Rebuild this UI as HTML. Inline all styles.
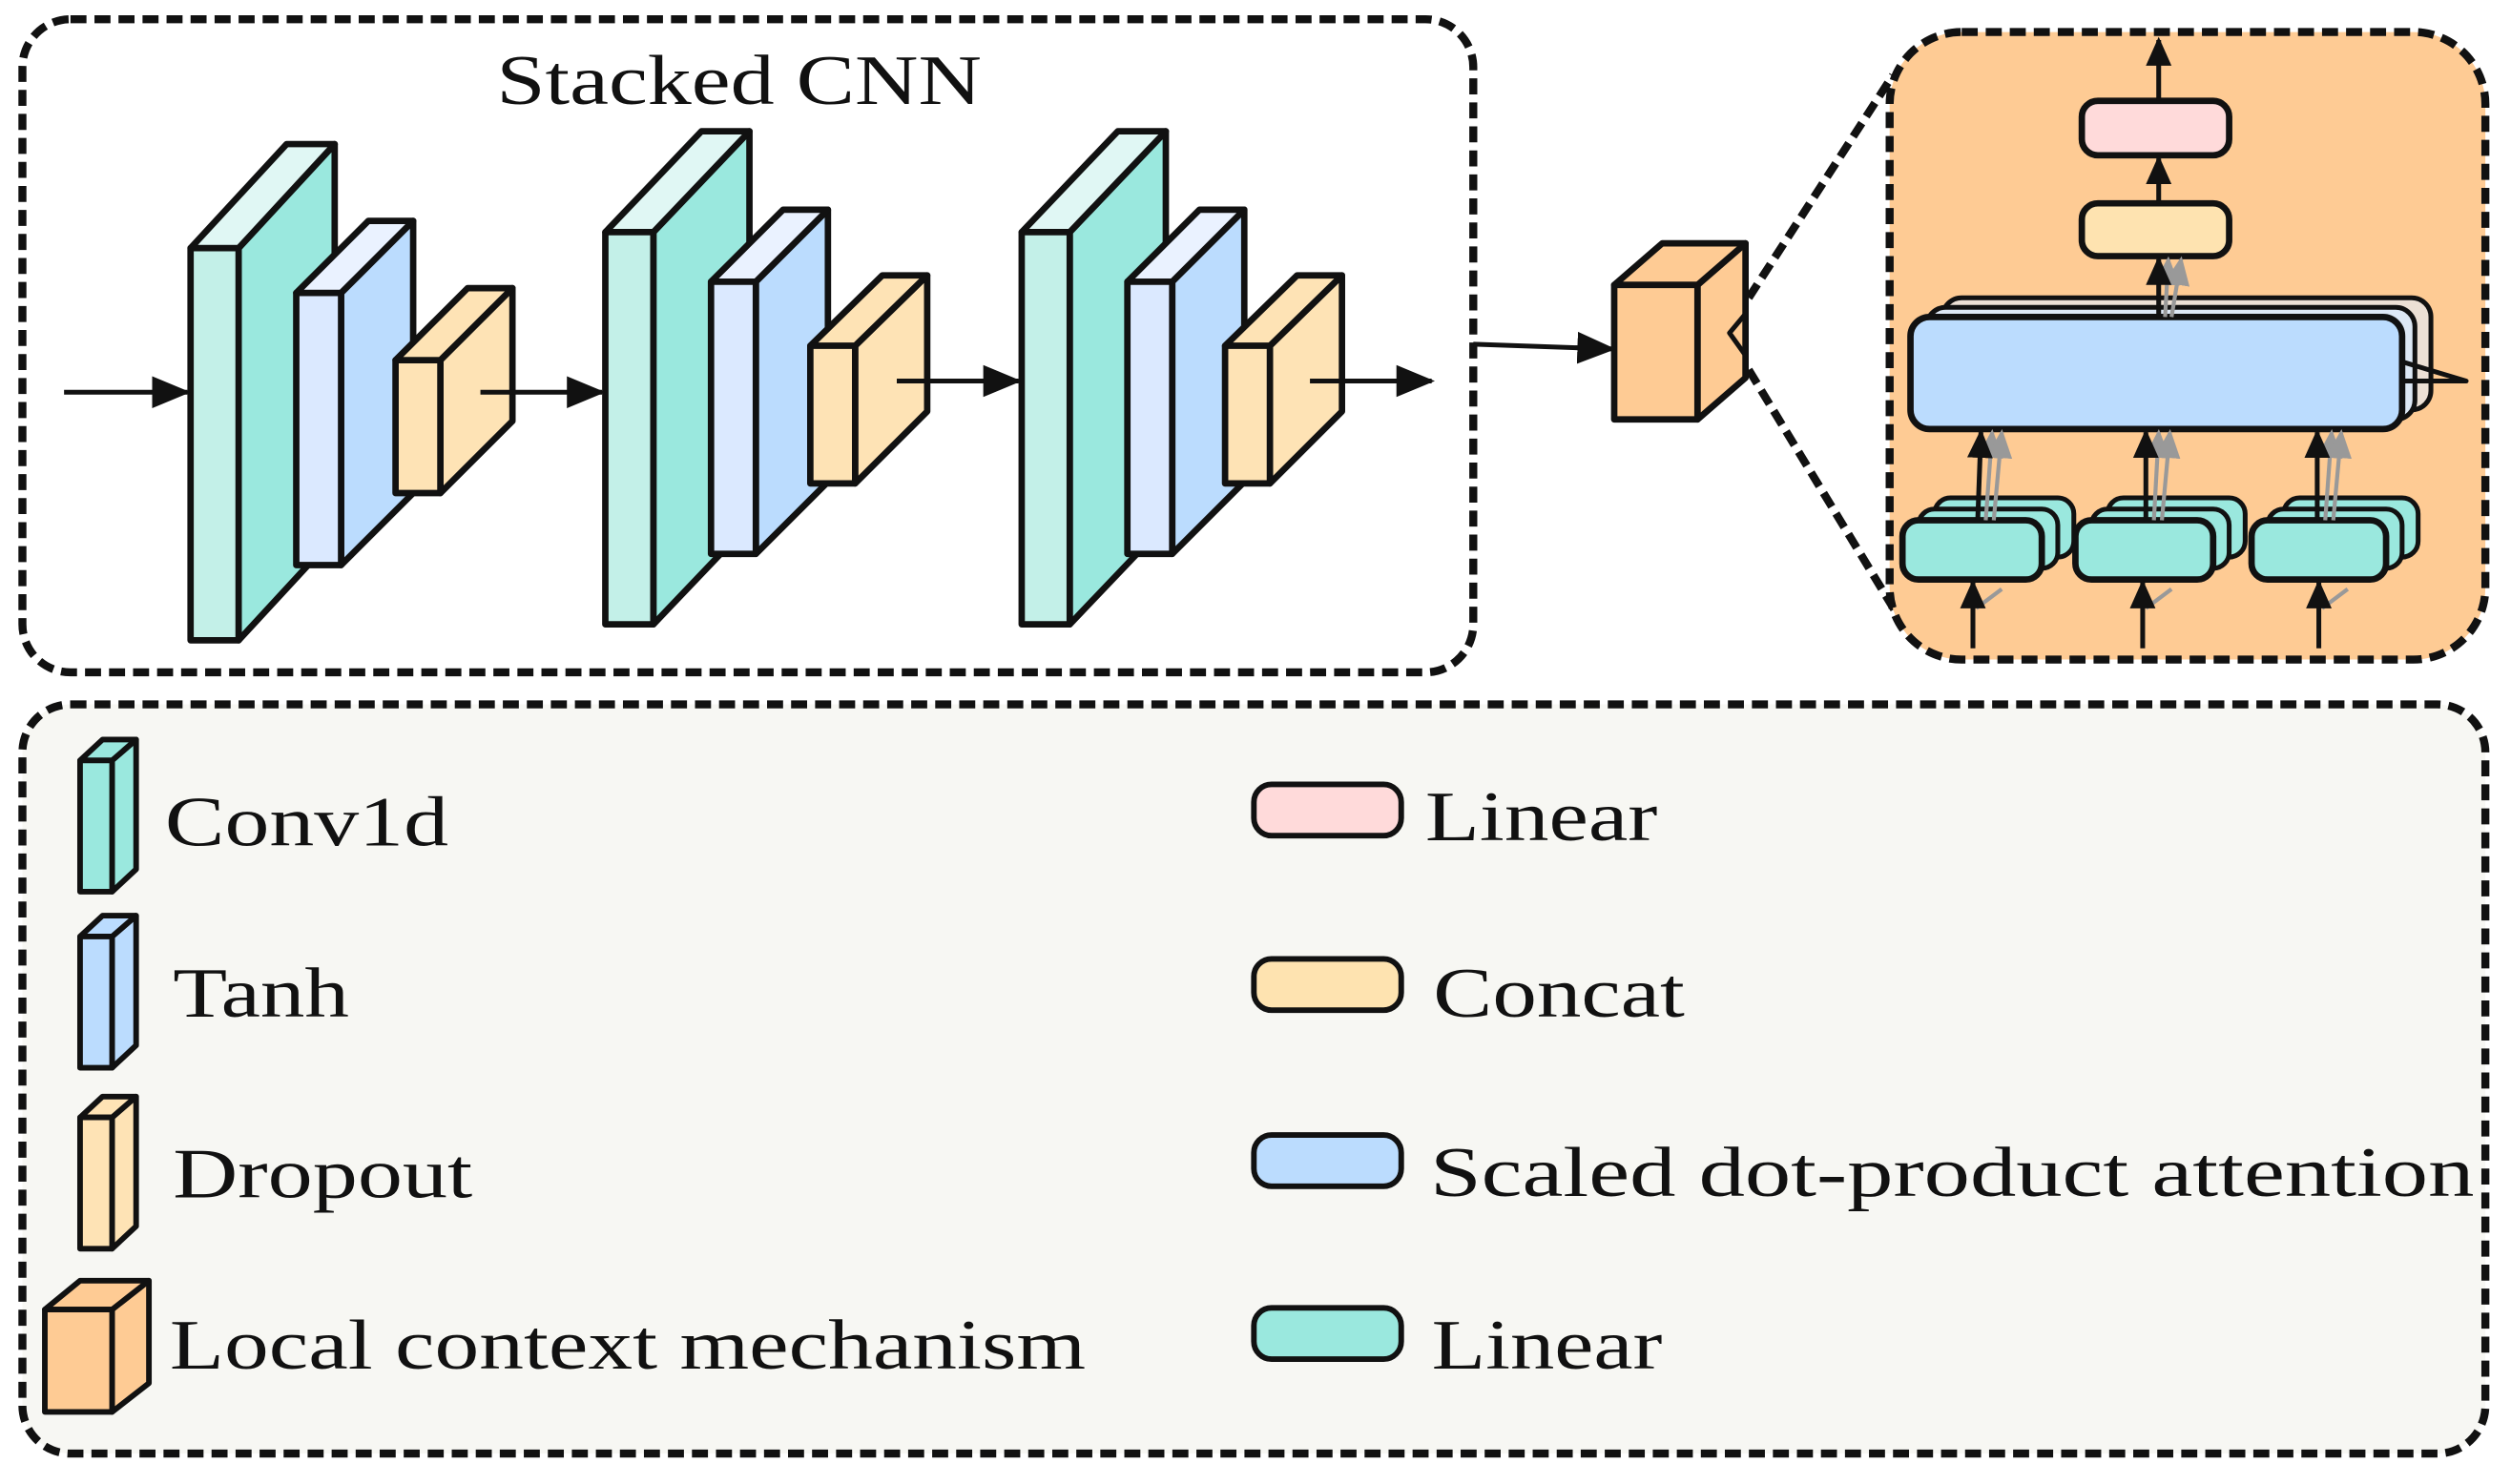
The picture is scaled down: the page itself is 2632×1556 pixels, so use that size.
<!DOCTYPE html>
<html><head><style>html,body{margin:0;padding:0;background:#fff}svg{display:block}</style></head><body>
<svg width="2632" height="1556" viewBox="0 0 1568 927" preserveAspectRatio="none" xmlns="http://www.w3.org/2000/svg" font-family="'Liberation Serif', serif">
<defs>
<marker id="ah" markerWidth="18" markerHeight="18" refX="16" refY="9" orient="auto" markerUnits="userSpaceOnUse" viewBox="0 0 18 18"><path d="M0,1 L18,9 L0,17z" fill="#111"/></marker>
<marker id="ab" markerWidth="24" markerHeight="24" refX="22" refY="12" orient="auto" markerUnits="userSpaceOnUse" viewBox="0 0 24 24"><path d="M0,2 L24,12 L0,22z" fill="#111"/></marker>
<marker id="ag" markerWidth="18" markerHeight="18" refX="16" refY="9" orient="auto" markerUnits="userSpaceOnUse" viewBox="0 0 18 18"><path d="M0,1 L18,9 L0,17z" fill="#999"/></marker>
</defs>
<g stroke="#111" stroke-width="5" stroke-linejoin="round">
<rect x="14" y="12" width="906" height="408" rx="30" fill="#fff" stroke-dasharray="10 5"/>
<rect x="14" y="440" width="1538" height="468" rx="30" fill="#f7f7f3" stroke-dasharray="10 5"/>
</g>
<text x="310" y="65" font-size="44" textLength="303" lengthAdjust="spacingAndGlyphs" fill="#111">Stacked CNN</text>

<g stroke="#111" stroke-width="4" stroke-linejoin="round">
<polygon points="149,155 209,90 209,335 149,400" fill="#9ae8de"/>
<polygon points="119,155 179,90 209,90 149,155" fill="#e0f7f4"/>
<rect x="119" y="155" width="30" height="245" fill="#c3f0e8"/>
<polygon points="213,183 258,138 258,308 213,353" fill="#bbdcfe"/>
<polygon points="185,183 230,138 258,138 213,183" fill="#eaf2ff"/>
<rect x="185" y="183" width="28" height="170" fill="#dbe9ff"/>
<polygon points="275,225 320,180 320,263 275,308" fill="#fee3b5"/>
<polygon points="247,225 292,180 320,180 275,225" fill="#fee3b5"/>
<rect x="247" y="225" width="28" height="83" fill="#fee3b5"/>
<polygon points="408,145 468,82 468,327 408,390" fill="#9ae8de"/>
<polygon points="378,145 438,82 468,82 408,145" fill="#e0f7f4"/>
<rect x="378" y="145" width="30" height="245" fill="#c3f0e8"/>
<polygon points="472,176 517,131 517,301 472,346" fill="#bbdcfe"/>
<polygon points="444,176 489,131 517,131 472,176" fill="#eaf2ff"/>
<rect x="444" y="176" width="28" height="170" fill="#dbe9ff"/>
<polygon points="534,216 579,172 579,257 534,302" fill="#fee3b5"/>
<polygon points="506,216 551,172 579,172 534,216" fill="#fee3b5"/>
<rect x="506" y="216" width="28" height="86" fill="#fee3b5"/>
<polygon points="668,145 728,82 728,327 668,390" fill="#9ae8de"/>
<polygon points="638,145 698,82 728,82 668,145" fill="#e0f7f4"/>
<rect x="638" y="145" width="30" height="245" fill="#c3f0e8"/>
<polygon points="732,176 777,131 777,301 732,346" fill="#bbdcfe"/>
<polygon points="704,176 749,131 777,131 732,176" fill="#eaf2ff"/>
<rect x="704" y="176" width="28" height="170" fill="#dbe9ff"/>
<polygon points="793,216 838,172 838,257 793,302" fill="#fee3b5"/>
<polygon points="765,216 810,172 838,172 793,216" fill="#fee3b5"/>
<rect x="765" y="216" width="28" height="86" fill="#fee3b5"/>
</g>
<g stroke="#111" stroke-width="3" fill="none">
<line x1="40" y1="245" x2="117" y2="245" marker-end="url(#ab)"/>
<line x1="300" y1="245" x2="376" y2="245" marker-end="url(#ab)"/>
<line x1="560" y1="238" x2="636" y2="238" marker-end="url(#ab)"/>
<line x1="818" y1="238" x2="894" y2="238" marker-end="url(#ab)"/>
<line x1="920" y1="215" x2="1007" y2="218" marker-end="url(#ab)"/>
</g>
<g stroke="#111" stroke-width="4" stroke-linejoin="round">
<path d="M1092,186 L1182,47" fill="none" stroke-width="5" stroke-dasharray="10 5"/>
<path d="M1092,231 L1183,381" fill="none" stroke-width="5" stroke-dasharray="10 5"/>
<rect x="1180" y="20" width="372" height="392" rx="45" fill="#fecb94" stroke-width="5" stroke-dasharray="10 5"/>
<polygon points="1060,178 1090,152 1090,236 1060,262" fill="#fecb94"/>
<polygon points="1008,178 1038,152 1090,152 1060,178" fill="#fecb94"/>
<rect x="1008" y="178" width="52" height="84" fill="#fecb94"/>
<polyline points="1090,196 1080,208 1090,222" fill="none" stroke-width="3"/>
<rect x="1300" y="63" width="92" height="34" rx="10" fill="#ffdada"/>
<rect x="1300" y="127" width="92" height="33" rx="10" fill="#fee3b0"/>
<rect x="1213" y="186" width="305" height="70" rx="12" fill="#ece0d5" stroke-width="3"/>
<rect x="1203" y="192" width="305" height="70" rx="12" fill="#dde8f5" stroke-width="3"/>
<rect x="1193" y="198" width="307" height="70" rx="12" fill="#bbdcfe"/>
<polyline points="1500,226 1540,238 1500,238" fill="none" stroke-width="3"/>
<g fill="#9ae8de" stroke-width="3">
<rect x="1208" y="311" width="87" height="37" rx="10"/><rect x="1198" y="318" width="87" height="37" rx="10"/>
<rect x="1188" y="325" width="87" height="37" rx="10" stroke-width="4"/>
<rect x="1316" y="311" width="86" height="37" rx="10"/><rect x="1306" y="318" width="86" height="37" rx="10"/>
<rect x="1296" y="325" width="86" height="37" rx="10" stroke-width="4"/>
<rect x="1426" y="311" width="84" height="37" rx="10"/><rect x="1416" y="318" width="84" height="37" rx="10"/>
<rect x="1406" y="325" width="84" height="37" rx="10" stroke-width="4"/>
</g>
</g>
<g stroke="#999" stroke-width="2.5" fill="none">
<line x1="1352" y1="198" x2="1354" y2="162" marker-end="url(#ag)"/>
<line x1="1356" y1="198" x2="1362" y2="162" marker-end="url(#ag)"/>
<line x1="1240" y1="325" x2="1244" y2="270" marker-end="url(#ag)"/>
<line x1="1245" y1="325" x2="1250" y2="270" marker-end="url(#ag)"/>
<line x1="1345" y1="325" x2="1348" y2="270" marker-end="url(#ag)"/>
<line x1="1350" y1="325" x2="1355" y2="270" marker-end="url(#ag)"/>
<line x1="1452" y1="325" x2="1456" y2="270" marker-end="url(#ag)"/>
<line x1="1457" y1="325" x2="1462" y2="270" marker-end="url(#ag)"/>
<line x1="1234" y1="380" x2="1250" y2="368"/>
<line x1="1340" y1="380" x2="1356" y2="368"/>
<line x1="1450" y1="380" x2="1466" y2="368"/>
</g>
<g stroke="#111" stroke-width="3" fill="none">
<line x1="1348" y1="63" x2="1348" y2="25" marker-end="url(#ah)"/>
<line x1="1348" y1="127" x2="1348" y2="99" marker-end="url(#ah)"/>
<line x1="1348" y1="198" x2="1348" y2="162" marker-end="url(#ah)"/>
<line x1="1235" y1="325" x2="1237" y2="270" marker-end="url(#ah)"/>
<line x1="1340" y1="325" x2="1340" y2="270" marker-end="url(#ah)"/>
<line x1="1447" y1="325" x2="1447" y2="270" marker-end="url(#ah)"/>
<line x1="1232" y1="405" x2="1232" y2="364" marker-end="url(#ah)"/>
<line x1="1338" y1="405" x2="1338" y2="364" marker-end="url(#ah)"/>
<line x1="1448" y1="405" x2="1448" y2="364" marker-end="url(#ah)"/>
</g>
<g stroke="#111" stroke-width="3.5" stroke-linejoin="round">
<polygon points="70,475 85,462 85,543 70,557" fill="#9ae8de"/>
<polygon points="50,475 64,462 85,462 70,475" fill="#9ae8de"/>
<rect x="50" y="475" width="20" height="82" fill="#9ae8de"/>
<polygon points="70,585 85,572 85,653 70,667" fill="#bbdcfe"/>
<polygon points="50,585 64,572 85,572 70,585" fill="#bbdcfe"/>
<rect x="50" y="585" width="20" height="82" fill="#bbdcfe"/>
<polygon points="70,698 85,685 85,766 70,780" fill="#fee3b5"/>
<polygon points="50,698 64,685 85,685 70,698" fill="#fee3b5"/>
<rect x="50" y="698" width="20" height="82" fill="#fee3b5"/>
<polygon points="70,818 93,800 93,864 70,882" fill="#fecb94"/>
<polygon points="28,818 50,800 93,800 70,818" fill="#fecb94"/>
<rect x="28" y="818" width="42" height="64" fill="#fecb94"/>
<rect x="783" y="490" width="92" height="32" rx="11" fill="#ffdada"/>
<rect x="783" y="599" width="92" height="32" rx="11" fill="#fee3b0"/>
<rect x="783" y="709" width="92" height="32" rx="11" fill="#bbdcfe"/>
<rect x="783" y="817" width="92" height="32" rx="11" fill="#9ae8de"/>
</g>
<g font-size="44" fill="#111" lengthAdjust="spacingAndGlyphs">
<text x="103" y="528" textLength="177" lengthAdjust="spacingAndGlyphs">Conv1d</text>
<text x="108" y="635" textLength="110" lengthAdjust="spacingAndGlyphs">Tanh</text>
<text x="108" y="748" textLength="187" lengthAdjust="spacingAndGlyphs">Dropout</text>
<text x="106" y="855" textLength="572" lengthAdjust="spacingAndGlyphs">Local context mechanism</text>
<text x="890" y="525" textLength="145" lengthAdjust="spacingAndGlyphs">Linear</text>
<text x="895" y="635" textLength="157" lengthAdjust="spacingAndGlyphs">Concat</text>
<text x="893" y="747" textLength="652" lengthAdjust="spacingAndGlyphs">Scaled dot-product attention</text>
<text x="894" y="855" textLength="144" lengthAdjust="spacingAndGlyphs">Linear</text>
</g>
</svg>
</body></html>
